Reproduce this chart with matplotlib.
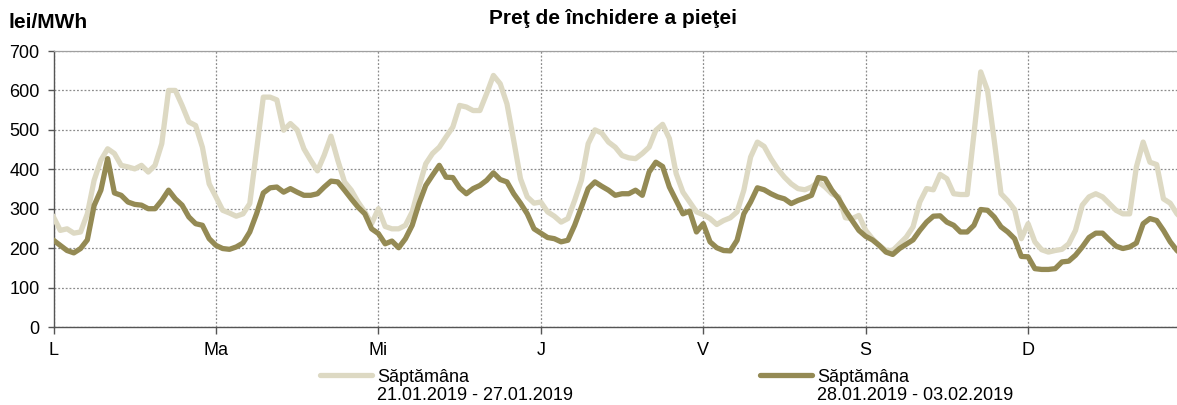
import matplotlib
matplotlib.use("Agg")
import matplotlib.pyplot as plt
from matplotlib.lines import Line2D
import numpy as np

plt.rcParams['font.family'] = ['Liberation Sans', 'DejaVu Sans']

# Data: hourly closing price (lei/MWh), 7 days x 24 hours
day_labels = ["L", "Ma", "Mi", "J", "V", "S", "D"]
series_names = ["Săptămâna", "Săptămâna"]
series_periods = ["21.01.2019 - 27.01.2019", "28.01.2019 - 03.02.2019"]

week1 = [
    279, 245, 249, 238, 241, 287, 372, 423, 452, 440, 410, 406, 401, 410, 393, 410, 465, 600, 600, 562, 520, 511, 456, 363,
    330, 296, 289, 281, 287, 313, 448, 583, 583, 576, 499, 516, 500, 452, 423, 396, 436, 484, 423, 368, 347, 317, 292, 262,
    300, 255, 249, 249, 258, 292, 355, 414, 440, 456, 482, 507, 562, 558, 549, 549, 592, 638, 617, 566, 473, 376, 330, 314,
    317, 292, 281, 266, 275, 321, 372, 465, 500, 492, 469, 456, 435, 429, 427, 440, 456, 499, 514, 478, 389, 342, 317, 292,
    285, 275, 260, 270, 277, 292, 347, 431, 469, 458, 427, 401, 380, 363, 351, 348, 355, 368, 355, 338, 330, 277, 275, 283,
    245, 224, 207, 194, 194, 211, 228, 254, 317, 351, 348, 387, 376, 338, 336, 336, 490, 647, 600, 473, 338, 320, 298, 224,
    262, 216, 196, 190, 194, 197, 211, 245, 309, 330, 338, 330, 313, 296, 287, 287, 406, 469, 418, 412, 325, 314, 287, 270,
]
week2 = [
    220, 207, 194, 188, 199, 221, 308, 347, 427, 340, 334, 317, 311, 309, 300, 300, 321, 347, 325, 309, 279, 262, 258, 224,
    207, 199, 197, 203, 213, 241, 287, 340, 353, 355, 342, 351, 342, 334, 334, 338, 355, 370, 368, 347, 325, 304, 287, 249,
    237, 211, 218, 201, 224, 258, 313, 359, 385, 410, 380, 379, 353, 338, 351, 359, 372, 391, 374, 368, 338, 314, 287, 249,
    238, 227, 224, 216, 220, 258, 304, 351, 368, 357, 347, 334, 338, 338, 347, 334, 393, 418, 407, 355, 321, 287, 294, 241,
    262, 216, 201, 194, 193, 220, 287, 317, 353, 348, 338, 330, 325, 313, 321, 327, 334, 379, 376, 347, 325, 296, 270, 245,
    230, 221, 207, 190, 184, 199, 210, 221, 245, 266, 281, 282, 266, 258, 241, 241, 258, 298, 296, 279, 254, 241, 224, 179,
    178, 148, 146, 146, 148, 165, 167, 182, 203, 227, 238, 238, 221, 205, 199, 203, 213, 262, 275, 270, 245, 216, 194, 180,
]
yticks = [0, 100, 200, 300, 400, 500, 600, 700]

c_light = "#DDD9C3"
c_dark = "#948A54"

W, H = 1177, 405
fig = plt.figure(figsize=(W / 100, H / 100), dpi=100)
ax = fig.add_axes([53.5 / W, 1 - 327 / H, 1 - 53.5 / W, (327 - 51) / H])

hours = np.arange(len(week1))
ax.plot(hours, week1, color=c_light, lw=3.8, solid_joinstyle="round", zorder=3)
ax.plot(hours, week2, color=c_dark, lw=3.8, solid_joinstyle="round", zorder=4)

ax.set_xlim(0, 166)
ax.set_ylim(0, 700)
ax.set_yticks(yticks)
ax.set_xticks(np.arange(0, 168, 24))
ax.set_xticklabels(day_labels)

ax.grid(True, axis="both", linestyle=(0, (1.5, 1.5)), color="#8c8c8c", linewidth=0.9)
ax.set_axisbelow(True)

for s in ["right"]:
    ax.spines[s].set_visible(False)
ax.spines["top"].set_color("#a0a0a0")
ax.spines["top"].set_linewidth(0.9)
ax.spines["left"].set_color("#555555")
ax.spines["bottom"].set_color("#555555")
ax.spines["left"].set_linewidth(1.0)
ax.spines["bottom"].set_linewidth(1.0)

ax.tick_params(axis="y", direction="out", length=4, width=1, color="#555555",
               labelsize=13, pad=6)
ax.tick_params(axis="x", direction="out", length=5, width=1, color="#555555",
               labelsize=13, pad=6)

# Title and unit
fig.text(613 / W, 1 - 18 / H, "Preţ de închidere a pieţei", ha="center", va="center",
         fontsize=15, fontweight="bold")
fig.text(8 / W, 1 - 22 / H, "lei/MWh", ha="left", va="center", fontsize=15, fontweight="bold")

# Legend
for i, (col, x0) in enumerate([(c_light, 320), (c_dark, 760)]):
    h = Line2D([], [], color=col, lw=3.8, solid_capstyle="round")
    lg = fig.legend(handles=[h], labels=[series_names[i]], loc="center left",
                    bbox_to_anchor=(x0 / W, 1 - 377 / H), frameon=False, borderpad=0,
                    borderaxespad=0, handlelength=52 / 18, handletextpad=5 / 18,
                    fontsize=13)
    fig.text((x0 + 57) / W, 1 - 396 / H, series_periods[i], ha="left", va="center", fontsize=13)

fig.savefig("out.png", dpi=100)
